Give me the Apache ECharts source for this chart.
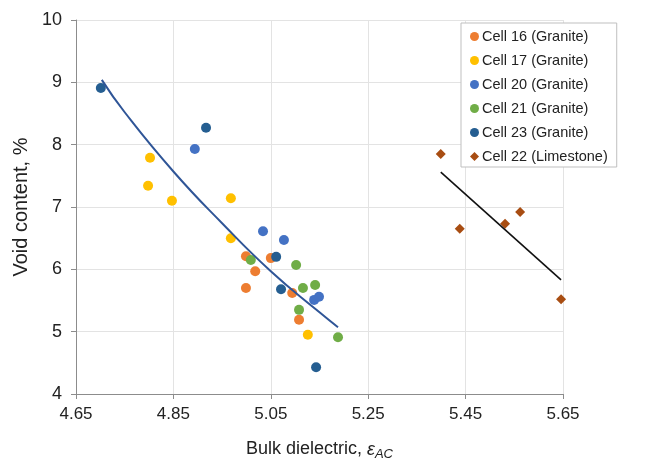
<!DOCTYPE html>
<html>
<head>
    <meta charset="utf-8">
    <title>Void content vs bulk dielectric</title>
    <script src="https://cdn.jsdelivr.net/npm/echarts@6/dist/echarts.min.js"></script>
    <style>
        html, body { margin: 0; padding: 0; background: #fff; }
        #main { width: 646px; height: 466px; }
    </style>
</head>
<body>
    <div id="main"></div>
    <script type="text/javascript">
        // points: [bulk dielectric, void content %]
        var cell16 = [[4.999, 6.21], [5.050, 6.18], [5.018, 5.97], [4.999, 5.70], [5.094, 5.62], [5.108, 5.19]];
        var cell17 = [[4.802, 7.79], [4.798, 7.34], [4.847, 7.10], [4.968, 7.14], [4.968, 6.50], [5.126, 4.95]];
        var cell20 = [[4.894, 7.93], [5.034, 6.61], [5.077, 6.47], [5.139, 5.51], [5.149, 5.56]];
        var cell21 = [[5.009, 6.15], [5.102, 6.07], [5.116, 5.70], [5.141, 5.75], [5.108, 5.35], [5.188, 4.91]];
        var cell23 = [[4.701, 8.91], [4.917, 8.27], [5.061, 6.20], [5.071, 5.68], [5.143, 4.43]];
        var cell22 = [[5.399, 7.85], [5.438, 6.65], [5.531, 6.73], [5.562, 6.92], [5.646, 5.52]];

        // trend lines, points
        var graniteTrend = [[4.703, 9.04], [4.75, 8.52], [4.85, 7.57], [4.95, 6.74], [5.05, 5.97], [5.15, 5.31], [5.188, 5.07]];
        var limestoneTrend = [[5.399, 7.56], [5.646, 5.83]];

        var xTicks = [4.65, 4.85, 5.05, 5.25, 5.45, 5.65];

        var font = 'Liberation Sans, Arial, sans-serif';
        var myChart = echarts.init(document.getElementById('main'));

        function dots(name, data, color, symbol, size) {
            return {
                name: name,
                type: 'scatter',
                data: data,
                symbol: symbol,
                symbolSize: size,
                itemStyle: { color: color, opacity: 1 },
                z: 3
            };
        }

        myChart.setOption({
            animation: false,
            textStyle: { fontFamily: font },
            grid: { left: 76, right: 83, top: 20, bottom: 72 },
            legend: {
                orient: 'vertical',
                left: 461,
                top: 23,
                padding: [6, 9, 3, 9],
                backgroundColor: '#fff',
                borderColor: '#bfbfbf',
                borderWidth: 1,
                itemWidth: 9,
                itemHeight: 9,
                itemGap: 9,
                textStyle: { fontSize: 14.5, color: '#222', padding: [0, 0, 0, -2] },
                data: [
                    { name: 'Cell 16 (Granite)', icon: 'circle' },
                    { name: 'Cell 17 (Granite)', icon: 'circle' },
                    { name: 'Cell 20 (Granite)', icon: 'circle' },
                    { name: 'Cell 21 (Granite)', icon: 'circle' },
                    { name: 'Cell 23 (Granite)', icon: 'circle' },
                    { name: 'Cell 22 (Limestone)', icon: 'diamond' }
                ]
            },
            xAxis: {
                type: 'value',
                min: 4.65,
                max: 5.65,
                name: 'Bulk dielectric, {e|ε}{s|AC}',
                nameLocation: 'middle',
                nameGap: 44,
                nameTextStyle: {
                    fontSize: 18, color: '#222',
                    rich: {
                        e: { fontSize: 18, fontStyle: 'italic', color: '#222' },
                        s: { fontSize: 13, fontStyle: 'italic', color: '#222', padding: [10, 0, 0, 0] }
                    }
                },
                axisLine: { lineStyle: { color: '#8c8c8c', width: 1 } },
                axisTick: { show: true, length: 5, customValues: xTicks, lineStyle: { color: '#8c8c8c' } },
                axisLabel: {
                    customValues: xTicks,
                    fontSize: 17, color: '#222', margin: 12,
                    formatter: function (v) { return v.toFixed(2); }
                },
                splitLine: { show: true, lineStyle: { color: '#e3e3e3', width: 1 } }
            },
            yAxis: {
                type: 'value',
                min: 4,
                max: 10,
                interval: 1,
                name: 'Void content, %',
                nameLocation: 'middle',
                nameGap: 39,
                nameTextStyle: { fontSize: 20, color: '#222' },
                axisLine: { show: true, lineStyle: { color: '#8c8c8c', width: 1 } },
                axisTick: { show: true, length: 5, lineStyle: { color: '#8c8c8c' } },
                axisLabel: { fontSize: 18, color: '#222', margin: 14 },
                splitLine: { show: true, lineStyle: { color: '#e3e3e3', width: 1 } }
            },
            series: [
                dots('Cell 16 (Granite)', cell16, '#ED7D31', 'circle', 10),
                dots('Cell 17 (Granite)', cell17, '#FFC000', 'circle', 10),
                dots('Cell 20 (Granite)', cell20, '#4472C4', 'circle', 10),
                dots('Cell 21 (Granite)', cell21, '#70AD47', 'circle', 10),
                dots('Cell 23 (Granite)', cell23, '#255E91', 'circle', 10),
                dots('Cell 22 (Limestone)', cell22, '#A84D12', 'diamond', 10),
                {
                    name: 'granite trend',
                    type: 'line',
                    data: graniteTrend,
                    smooth: true,
                    showSymbol: false,
                    lineStyle: { color: '#2F5597', width: 2 },
                    z: 4
                },
                {
                    name: 'limestone trend',
                    type: 'line',
                    data: limestoneTrend,
                    showSymbol: false,
                    lineStyle: { color: '#111', width: 1.6 },
                    z: 4
                }
            ]
        });
    </script>
</body>
</html>
